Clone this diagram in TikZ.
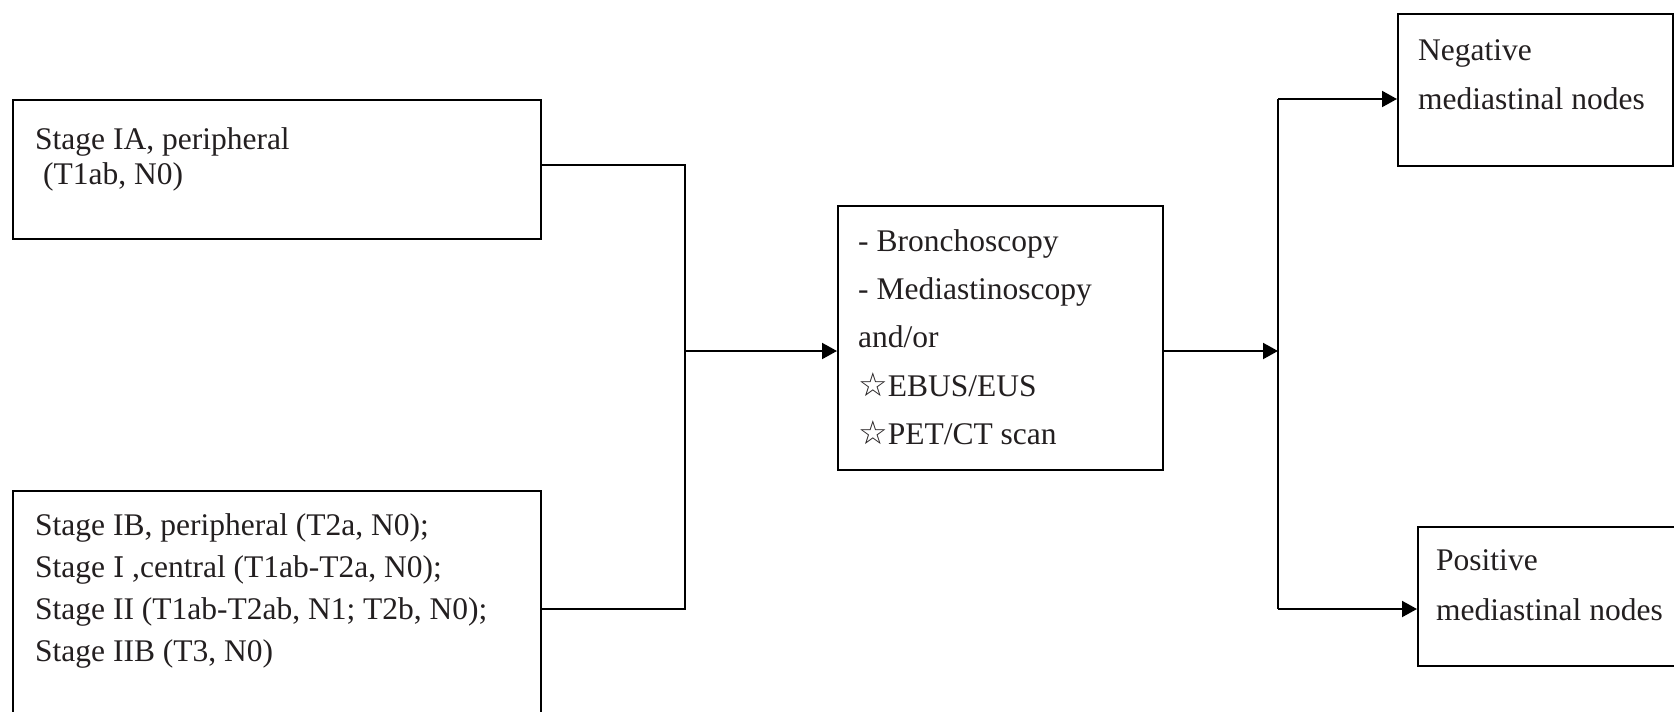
\documentclass[tikz,border=0pt]{standalone}
\usepackage{fontspec}
\setmainfont{Liberation Serif}
\newfontfamily\symfont{DejaVu Sans}
\newfontfamily\numfont{DejaVu Serif}
\usetikzlibrary{arrows.meta}
\definecolor{ink}{RGB}{35,31,32}
\newcommand{\wstar}{{\symfont\fontsize{33}{33}\selectfont ☆}}
\newcommand{\romanone}{{\numfont\fontsize{28.5}{28.5}\selectfont Ⅰ}}

\begin{document}
\begin{tikzpicture}[x=1pt,y=-1pt,
  box/.style={draw=black, line width=2pt, inner sep=0pt, anchor=north west},
  txt/.style={anchor=north west, inner sep=0pt, align=left, text=ink},
  link/.style={line width=2pt, draw=black},
  arr/.style={link, -{Triangle[length=15pt,width=16pt]}},
]
\useasboundingbox (0,0) rectangle (1674,712);
\clip (0,0) rectangle (1674,712);

% boxes
\node[box, minimum width=528pt, minimum height=139pt] (a) at (12,99) {};
\node[box, minimum width=528pt, minimum height=260pt] (b) at (12,490) {};
\node[box, minimum width=325pt, minimum height=264pt] (c) at (837,205) {};
\node[box, minimum width=275pt, minimum height=152pt] (d) at (1397,13) {};
\node[box, minimum width=290pt, minimum height=139pt] (e) at (1417,526) {};

% texts (north edge = first baseline - 0.7 baselineskip)
\node[txt, font=\fontsize{31.5}{35}\selectfont] (ta) at (35,{149-24.5})
  {\strut Stage IA, peripheral\\ \ (T1ab, N0)};
\node[txt, font=\fontsize{31.5}{42}\selectfont] (tb) at (35,{535-29.4})
  {\strut Stage IB, peripheral (T2a, N0);\\
   Stage \romanone\ ,central (T1ab-T2a, N0);\\
   Stage II (T1ab-T2ab, N1; T2b, N0);\\
   Stage IIB (T3, N0)};
\node[txt, font=\fontsize{31.5}{48.3}\selectfont] (tc) at (858,{251-33.8})
  {\strut - Bronchoscopy\\
   - Mediastinoscopy\\
   and/or\\
   \wstar EBUS/EUS\\
   \wstar PET/CT scan};
\node[txt, font=\fontsize{31.5}{49}\selectfont] (td) at (1418,{60-34.3})
  {\strut Negative\\ mediastinal nodes};
\node[txt, font=\fontsize{31.5}{50}\selectfont] (te) at (1436,{570-35})
  {\strut Positive\\ mediastinal nodes};

% junction points
\coordinate (ja) at (685,165);
\coordinate (jb) at (685,609);
\coordinate (jm) at (685,351);
\coordinate (sm) at (1278,351);
\coordinate (sd) at (1278,99);
\coordinate (se) at (1278,609);

% connectors
\draw[link] (ja -| a.east) -- (ja) -- (jb) -- (jb -| b.east);
\draw[arr] (jm) -- (jm -| c.west);
\draw[arr] (sm -| c.east) -- (sm);
\draw[link] (sd) -- (se);
\draw[arr] (sd) -- (sd -| d.west);
\draw[arr] (se) -- (se -| e.west);
\end{tikzpicture}
\end{document}
